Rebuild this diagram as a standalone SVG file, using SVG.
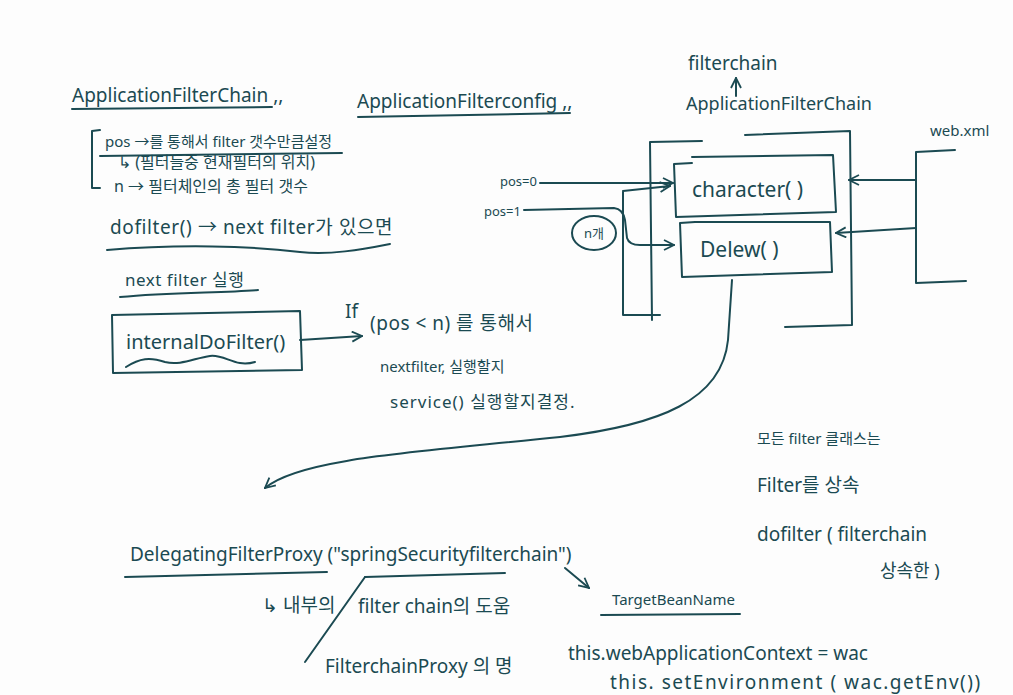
<svg xmlns="http://www.w3.org/2000/svg" width="1013" height="695" viewBox="0 0 1013 695">
<defs>
<style>
text{font-family:"Noto Sans","Noto Sans CJK KR",sans-serif;fill:#1b4a52;font-size:17px}
.t{font-size:19px}
.b{font-size:21px}
.s{font-size:15px}
.xs{font-size:13px}
.ln{fill:none;stroke:#1b4a52;stroke-width:2;stroke-linecap:round;stroke-linejoin:round}
</style>
<marker id="ah" viewBox="0 0 12 12" refX="11" refY="6" markerWidth="12" markerHeight="12" markerUnits="userSpaceOnUse" orient="auto">
<path d="M1 1 L11 6 L1 11" fill="none" stroke="#1b4a52" stroke-width="1.8"/>
</marker>
</defs>
<rect width="1013" height="695" fill="#fdfdfd"/>

<g id="appFilterChainNotes">
<text x="72" y="102" class="t">ApplicationFilterChain ,,</text>
<path class="ln" d="M72 109 L272 107"/>
<path class="ln" d="M100 130 L92 131 L92 188 L100 188"/>
<text x="105" y="147" class="s">pos →를 통해서  filter 갯수만큼설정</text>
<path class="ln" d="M100 156 L342 153"/>
<text x="118" y="168" style="font-size:16px">↳ (필터들중  현재필터의 위치)</text>
<text x="114" y="192" style="font-size:16px">n →  필터체인의 총 필터 갯수</text>
<text x="110" y="234" class="t" style="letter-spacing:0.6px">dofilter() →  next filter가 있으면</text>
<path class="ln" d="M107 250 C180 244 250 246 300 252 C330 255 360 250 390 244"/>
<text x="125" y="286" style="letter-spacing:0.5px">next filter 실행</text>
<path class="ln" d="M120 297 C170 292 220 293 258 290"/>
</g>

<g id="internalDoFilter">
<path class="ln" d="M112 315 L300 311 L302 370 L113 373 Z"/>
<text x="126" y="349" style="font-size:20px">internalDoFilter()</text>
<path class="ln" d="M126 367 C140 358 150 357 165 362 C180 366 195 358 210 356 C225 354 235 368 255 362"/>
</g>

<g id="ifNotes">
<text x="345" y="318" class="t">If</text>
<text x="370" y="330" class="t" style="letter-spacing:0.5px">(pos &lt; n) 를 통해서</text>
<text x="380" y="372" class="s">nextfilter, 실행할지</text>
<text x="390" y="408" style="letter-spacing:1px">service() 실행할지결정.</text>
</g>

<g id="appFilterConfig">
<text x="357" y="108" class="t">ApplicationFilterconfig ,,</text>
<path class="ln" d="M358 117 L570 113"/>
</g>

<g id="filterchainTitle">
<text x="688" y="70" class="t">filterchain</text>
<text x="686" y="110" style="font-size:18px">ApplicationFilterChain</text>
</g>

<g id="outerBox">
<path class="ln" d="M652 320 L650 142 L702 141"/>
<path class="ln" d="M745 135 L850 131 L852 325 L785 327"/>
<path class="ln" d="M623 192 L623 315 L660 315"/>
</g>

<g id="characterBox">
<path class="ln" d="M692 163 L674 164 L676 217 L836 212 L833 155 L692 157"/>
<text x="692" y="197" class="b">character( )</text>
</g>

<g id="delewBox">
<path class="ln" d="M695 222 L680 223 L682 277 L832 272 L830 222 L695 222"/>
<text x="700" y="257" class="b">Delew( )</text>
</g>

<g id="posLabels">
<text x="500" y="186" class="xs">pos=0</text>
<text x="484" y="216" class="xs">pos=1</text>
</g>

<g id="nCircle">
<ellipse cx="594" cy="233" rx="22" ry="17" class="ln"/>
<text x="594" y="238" class="xs" text-anchor="middle">n개</text>
</g>

<g id="webxml">
<text x="930" y="136" class="s">web.xml</text>
<path class="ln" d="M955 150 L916 152 L916 283 L966 281"/>
</g>

<g id="notesRight">
<text x="757" y="444" class="s">모든 filter 클래스는</text>
<text x="757" y="492" class="t">Filter를 상속</text>
<text x="757" y="541" class="t">dofilter ( filterchain</text>
<text x="880" y="577" style="font-size:18px">상속한 )</text>
</g>

<g id="delegating">
<text x="130" y="561" class="t">DelegatingFilterProxy ("springSecurityfilterchain")</text>
<path class="ln" d="M125 577 L327 572"/>
<path class="ln" d="M365 577 L505 573"/>
<path class="ln" d="M365 577 L305 662"/>
<text x="262" y="612" class="t">↳ 내부의</text>
<text x="358" y="613" class="t">filter chain의 도움</text>
<text x="325" y="673" class="t">FilterchainProxy 의 명</text>
</g>

<g id="targetBean">
<text x="612" y="605" class="s">TargetBeanName</text>
<path class="ln" d="M601 615 L740 614"/>
<text x="568" y="660" class="t">this.webApplicationContext =  wac</text>
<text x="610" y="689" class="t" style="letter-spacing:1.5px">this. setEnvironment ( wac.getEnv())</text>
</g>

<g id="connectors">
<path class="ln" marker-end="url(#ah)" d="M300 340 L362 336"/>
<path class="ln" marker-end="url(#ah)" d="M736 96 L736 78"/>
<path class="ln" marker-end="url(#ah)" d="M540 183 L673 183"/>
<path class="ln" marker-end="url(#ah)" d="M623 191 L670 186"/>
<path class="ln" marker-end="url(#ah)" d="M524 210 L614 208 Q623 209 625 220 L627 238 Q629 245 640 245 L674 245"/>
<path class="ln" marker-end="url(#ah)" d="M916 180 L849 180"/>
<path class="ln" marker-end="url(#ah)" d="M916 228 L836 233"/>
<path class="ln" marker-end="url(#ah)" d="M732 280 L728 340 C722 400 660 425 560 437 C420 452 300 458 265 488"/>
<path class="ln" marker-end="url(#ah)" d="M565 568 L589 588"/>
</g>
</svg>
